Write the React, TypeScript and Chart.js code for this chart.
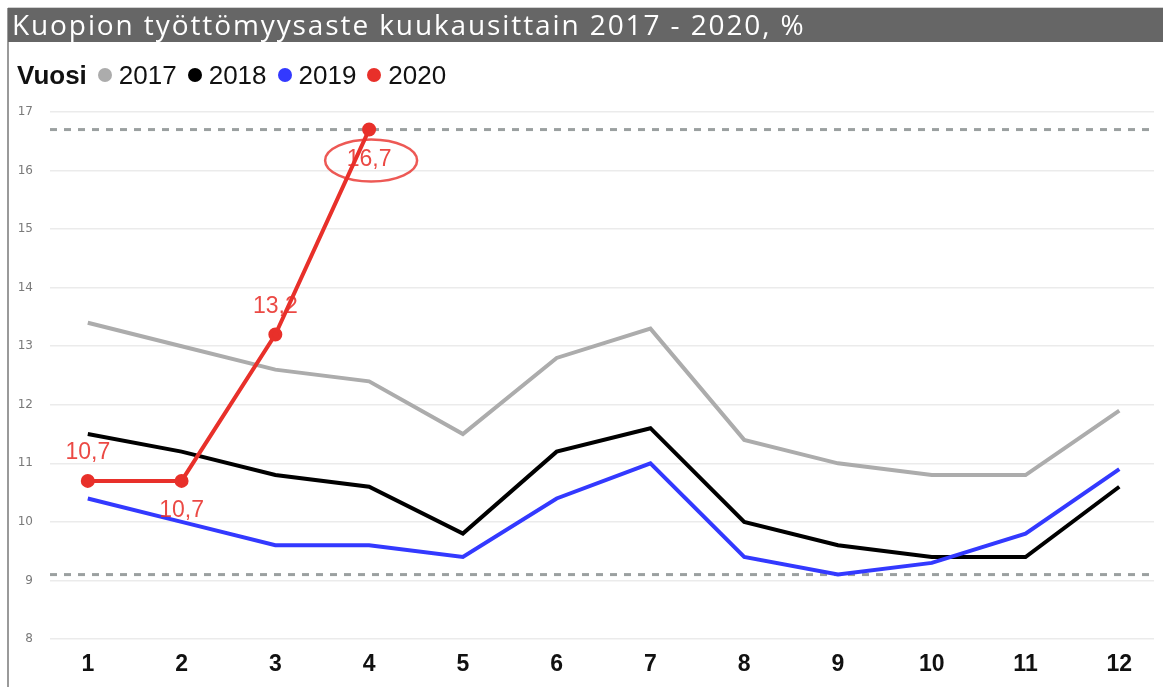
import React, { useEffect, useRef } from "react";
import { Chart, registerables } from "chart.js";

Chart.register(...registerables);

const months = [1, 2, 3, 4, 5, 6, 7, 8, 9, 10, 11, 12];
const y2017 = [13.4, 13.0, 12.6, 12.4, 11.5, 12.8, 13.3, 11.4, 11.0, 10.8, 10.8, 11.9];
const y2018 = [11.5, 11.2, 10.8, 10.6, 9.8, 11.2, 11.6, 10.0, 9.6, 9.4, 9.4, 10.6];
const y2019 = [10.4, 10.0, 9.6, 9.6, 9.4, 10.4, 11.0, 9.4, 9.1, 9.3, 9.8, 10.9];
const y2020 = [10.7, 10.7, 13.2, 16.7];
const refLines = [16.7, 9.1];
const yTicks = [8, 9, 10, 11, 12, 13, 14, 15, 16, 17];
const seriesNames = ["2017", "2018", "2019", "2020"];
const seriesColors = ["#acacac", "#000000", "#3339ff", "#e8302a"];

const TITLE = "Kuopion työttömyysaste kuukausittain 2017 - 2020, %";
const LEGEND_TITLE = "Vuosi";

const X_MIN = 0.597;
const X_MAX = 12.37;

// label placement for 2020 points: -1 above, +1 below
const labelSide = [-1, 1, -1, 1];
const circledIndex = 3;

const labelPlugin = {
  id: "labels2020",
  afterDatasetsDraw(chart: any) {
    const meta = chart.getDatasetMeta(3);
    const ctx = chart.ctx;
    ctx.save();
    ctx.font = "23px 'Liberation Sans', Arial, sans-serif";
    ctx.fillStyle = "rgba(232,48,42,0.88)";
    ctx.textAlign = "center";
    ctx.textBaseline = "middle";
    meta.data.forEach((pt: any, i: number) => {
      const txt = String(y2020[i]).replace(".", ",");
      const dy = labelSide[i] < 0 ? -28 : 30;
      ctx.fillText(txt, pt.x, pt.y + dy);
      if (i === circledIndex) {
        ctx.beginPath();
        ctx.strokeStyle = "rgba(232,48,42,0.8)";
        ctx.lineWidth = 2.5;
        ctx.ellipse(pt.x + 2, pt.y + dy + 1, 46, 21, 0, 0, Math.PI * 2);
        ctx.stroke();
      }
    });
    ctx.restore();
  },
};

export default function App() {
  const ref = useRef<HTMLCanvasElement | null>(null);
  useEffect(() => {
    if (!ref.current) return;
    const toXY = (arr: number[]) => arr.map((v, i) => ({ x: months[i], y: v }));
    const lineDs = (arr: number[], idx: number, order: number) => ({
      label: seriesNames[idx],
      data: toXY(arr),
      borderColor: seriesColors[idx],
      backgroundColor: seriesColors[idx],
      borderWidth: 4,
      pointRadius: idx === 3 ? 5 : 0,
      pointHoverRadius: 0,
      tension: 0,
      order,
    });
    const refDs = refLines.map((v) => ({
      label: "ref" + v,
      data: [
        { x: X_MIN, y: v },
        { x: X_MAX, y: v },
      ],
      borderColor: "#9ba0a0",
      borderWidth: 3,
      borderDash: [7, 7],
      pointRadius: 0,
      order: 10,
    }));
    const chart = new Chart(ref.current, {
      type: "line",
      data: {
        datasets: [
          lineDs(y2017, 0, 4),
          lineDs(y2018, 1, 3),
          lineDs(y2019, 2, 2),
          lineDs(y2020, 3, 1),
          ...refDs,
        ] as any,
      },
      options: {
        animation: false,
        responsive: false,
        layout: { padding: { top: 112, right: 3, left: 0, bottom: 0 } },
        plugins: { legend: { display: false }, tooltip: { enabled: false } },
        scales: {
          x: {
            type: "linear",
            min: X_MIN,
            max: X_MAX,
            afterBuildTicks: (axis: any) => {
              axis.ticks = months.map((m) => ({ value: m }));
            },
            afterFit: (axis: any) => {
              axis.height = 48;
            },
            grid: { display: false, drawTicks: false },
            border: { display: false },
            ticks: {
              padding: 12,
              autoSkip: false,
              maxRotation: 0,
              color: "#111",
              font: { family: "'Liberation Sans', Arial, sans-serif", size: 23, weight: "bold" },
              callback: (v: any) => String(v),
            },
          },
          y: {
            min: 8,
            max: 17,
            afterBuildTicks: (axis: any) => {
              axis.ticks = yTicks.map((t) => ({ value: t }));
            },
            afterFit: (axis: any) => {
              axis.width = 50;
            },
            grid: { color: "#ebebeb", lineWidth: 1.5, drawTicks: false },
            border: { display: false },
            ticks: {
              padding: 17,
              color: "#7a7a7a",
              font: { family: "'DejaVu Sans', Verdana, sans-serif", size: 12 },
            },
          },
        },
      },
      plugins: [labelPlugin],
    } as any);
    return () => chart.destroy();
  }, []);

  return (
    <div
      style={{
        position: "absolute",
        left: 0,
        top: 0,
        width: 1163,
        height: 687,
        overflow: "hidden",
        background: "#fff",
        fontFamily: "'Liberation Sans', Arial, sans-serif",
      }}
    >
      <canvas ref={ref} width={1163} height={687} style={{ position: "absolute", left: 0, top: 0, width: 1163, height: 687 }} />
      <div style={{ position: "absolute", left: 7, top: 8, width: 2, height: 679, background: "#9a9a9a" }} />
      <div
        style={{
          position: "absolute",
          left: 8,
          top: 7,
          width: 1155,
          height: 35,
          background: "#666666",
          borderTop: "1px solid #d0d0d0",
          color: "#fff",
          fontFamily: "'Open Sans', 'Liberation Sans', sans-serif",
          fontSize: 28,
          letterSpacing: "1.9px",
          lineHeight: "33px",
          paddingLeft: 4,
          boxSizing: "border-box",
          whiteSpace: "nowrap",
        }}
      >
        {TITLE}
      </div>
      <div
        style={{
          position: "absolute",
          left: 17,
          top: 60,
          height: 30,
          display: "flex",
          alignItems: "center",
          fontSize: 26,
          color: "#111",
          whiteSpace: "nowrap",
        }}
      >
        <span style={{ fontWeight: "bold", marginRight: 11 }}>{LEGEND_TITLE}</span>
        {seriesNames.map((n, i) => (
          <span key={n} style={{ display: "flex", alignItems: "center", marginRight: 11 }}>
            <span
              style={{
                display: "inline-block",
                width: 14,
                height: 14,
                borderRadius: 7,
                background: seriesColors[i],
                marginRight: 7,
              }}
            />
            {n}
          </span>
        ))}
      </div>
    </div>
  );
}
